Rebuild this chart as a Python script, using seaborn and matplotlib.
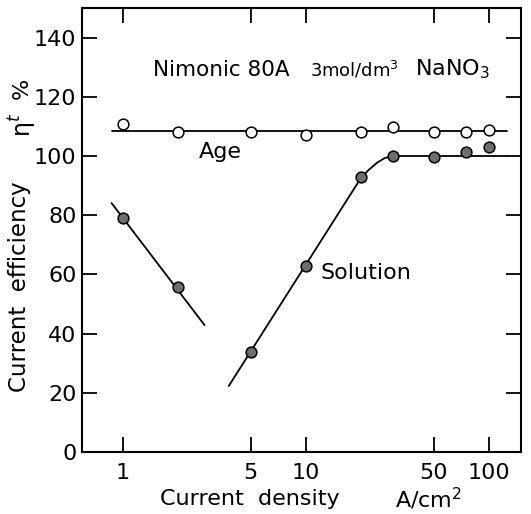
import matplotlib
matplotlib.use('Agg')
import matplotlib.pyplot as plt
import matplotlib.ticker as mticker
import pandas as pd
import seaborn as sns

# measured points (current density A/cm2, efficiency %)
density = [1, 2, 5, 10, 20, 30, 50, 75, 100]
age_eff = [110.9, 108.0, 108.0, 107.2, 108.2, 109.7, 108.2, 108.2, 108.9]
sol_eff = [79.2, 55.9, 33.7, 62.9, 92.8, 100.1, 99.5, 101.2, 102.9]

# hand-drawn guide lines
age_line_x = [0.88, 125]
age_line_y = [108.6, 108.6]
sol_low_x = [0.87, 2.8]
sol_low_y = [84.1, 42.9]
sol_high_x = [3.8, 20, 22, 24.5, 27, 30, 125]
sol_high_y = [22.3, 92.5, 95.2, 97.7, 99.3, 100.0, 100.0]

xticks = [1, 5, 10, 50, 100]
yticks = [0, 20, 40, 60, 80, 100, 120, 140]

sns.set_style('ticks')
plt.rcParams['font.family'] = ['DejaVu Sans']
plt.rcParams['mathtext.fontset'] = 'dejavusans'
plt.rcParams['text.color'] = 'black'

W, H = 531, 514
fig = plt.figure(figsize=(W / 100, H / 100), dpi=100)
ax = fig.add_axes([82 / W, 1 - 452 / H, (521 - 82) / W, (452 - 8) / H])

lw = 1.3
sns.lineplot(x=age_line_x, y=age_line_y, ax=ax, color='black', lw=lw, sort=False)
sns.lineplot(x=sol_low_x, y=sol_low_y, ax=ax, color='black', lw=lw, sort=False)
sns.lineplot(x=sol_high_x, y=sol_high_y, ax=ax, color='black', lw=lw, sort=False)

df = pd.DataFrame({'density': density, 'age': age_eff, 'solution': sol_eff})
sns.scatterplot(data=df, x='density', y='age', ax=ax, s=60, color='white',
                edgecolor='black', linewidth=1.1, zorder=5)
sns.scatterplot(data=df, x='density', y='solution', ax=ax, s=60, color='#6e6e6e',
                edgecolor='black', linewidth=1.1, zorder=5)

ax.set_xscale('log')
ax.set_xlim(0.6, 150)
ax.set_ylim(0, 150)
ax.xaxis.set_major_locator(mticker.FixedLocator(xticks))
ax.xaxis.set_major_formatter(mticker.FixedFormatter([str(t) for t in xticks]))
ax.xaxis.set_minor_locator(mticker.NullLocator())
ax.set_yticks(yticks)
ax.tick_params(axis='both', direction='in', length=11, width=1.3, top=True, right=True,
               labelsize=16, colors='black')
ax.tick_params(axis='x', pad=8)
ax.tick_params(axis='y', pad=4)
for s in ax.spines.values():
    s.set_linewidth(1.5)
    s.set_color('black')
ax.set_xlabel('')
ax.set_ylabel('')

# axis titles placed like the original figure
fig.text(250 / W, 1 - 499 / H, 'Current  density', fontsize=16, ha='center', va='center')
fig.text(395 / W, 1 - 499 / H, 'A/cm$^2$', fontsize=16, ha='left', va='center')
fig.text(20 / W, 1 - 287 / H, 'Current  efficiency', fontsize=16.5, rotation=90,
         ha='center', va='center')
fig.text(22 / W, 1 - 125 / H, 'η$^{t}$', fontsize=17, rotation=90, ha='center', va='center')
fig.text(22 / W, 1 - 88 / H, '%', fontsize=16, rotation=90, ha='center', va='center')

ax.text(1.46, 129.2, 'Nimonic 80A', fontsize=15.5, va='center', ha='left')
ax.text(10.5, 129.2, '3mol/dm$^3$', fontsize=13, va='center', ha='left')
ax.text(39.4, 129.2, 'NaNO$_3$', fontsize=16, va='center', ha='left')
ax.text(2.6, 101.5, 'Age', fontsize=16, va='center', ha='left')
ax.text(12.1, 60.6, 'Solution', fontsize=16, va='center', ha='left')

fig.savefig('out.png', dpi=100)
